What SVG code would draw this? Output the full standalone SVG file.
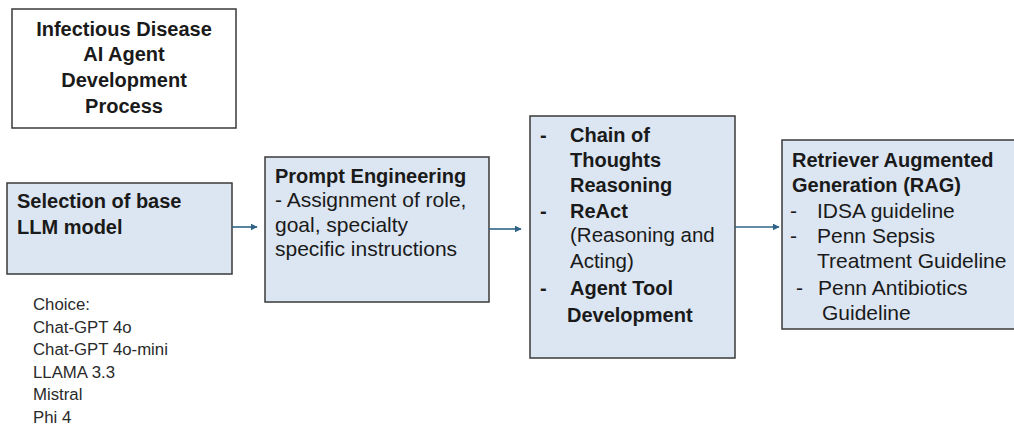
<svg xmlns="http://www.w3.org/2000/svg" width="1014" height="427" viewBox="0 0 1014 427">
<defs>
<marker id="ah" viewBox="0 0 10 10" refX="9" refY="5" markerWidth="7" markerHeight="7" markerUnits="userSpaceOnUse" orient="auto"><path d="M0,0 L10,5 L0,10 z" fill="#2f6488"/></marker>
<style>
.box{fill:#dce6f2;stroke:#3a3a3a;stroke-width:1.5}
.title{fill:#fff;stroke:#3a3a3a;stroke-width:1.5}
text{font-family:"Liberation Sans",Arial,sans-serif;fill:#1a1a1a;font-size:20px}
.b{font-weight:bold}
.r{font-size:21px}
.r3{font-size:20.5px}
.ch{font-size:16.8px;fill:#2a2a2a}
.c{stroke:#2f6488;stroke-width:1.6;fill:none;marker-end:url(#ah)}
</style>
</defs>
<rect width="1014" height="427" fill="#fff"/>
<g id="title">
<rect class="title" x="12" y="9" width="224" height="119"/>
<text class="b" text-anchor="middle" x="124" y="36">Infectious Disease</text>
<text class="b" text-anchor="middle" x="124" y="61">AI Agent</text>
<text class="b" text-anchor="middle" x="124" y="87">Development</text>
<text class="b" text-anchor="middle" x="124" y="113">Process</text>
</g>
<g id="node-llm">
<rect class="box" x="7" y="183" width="225" height="91"/>
<text class="b" x="17" y="208">Selection of base</text>
<text class="b" x="17" y="234">LLM model</text>
</g>
<g id="choices">
<text class="ch" x="33" y="310">Choice:</text>
<text class="ch" x="33" y="332.5">Chat-GPT 4o</text>
<text class="ch" x="33" y="355">Chat-GPT 4o-mini</text>
<text class="ch" x="33" y="377.5">LLAMA 3.3</text>
<text class="ch" x="33" y="400">Mistral</text>
<text class="ch" x="33" y="422.5">Phi 4</text>
</g>
<g id="node-prompt">
<rect class="box" x="265" y="157" width="224" height="145"/>
<text class="b" x="275" y="183">Prompt Engineering</text>
<text class="r" x="275" y="207">- Assignment of role,</text>
<text class="r" x="275" y="231.5">goal, specialty</text>
<text class="r" x="275" y="256">specific instructions</text>
</g>
<g id="node-reasoning">
<rect class="box" x="530" y="116" width="205" height="242"/>
<text class="b" x="540" y="142">-</text>
<text class="b" x="570" y="142">Chain of</text>
<text class="b" x="570" y="167">Thoughts</text>
<text class="b" x="570" y="192">Reasoning</text>
<text class="b" x="540" y="218">-</text>
<text class="b" x="570" y="218">ReAct</text>
<text class="r3" x="570" y="242">(Reasoning and</text>
<text class="r3" x="570" y="268">Acting)</text>
<text class="b" x="540" y="295">-</text>
<text class="b" x="570" y="295">Agent Tool</text>
<text class="b" x="567" y="322">Development</text>
</g>
<g id="node-rag">
<rect class="box" x="782" y="140" width="240" height="189"/>
<text class="b" x="792" y="167">Retriever Augmented</text>
<text class="b" x="792" y="192">Generation (RAG)</text>
<text class="r" x="790" y="218">-</text>
<text class="r" x="817" y="218">IDSA guideline</text>
<text class="r" x="790" y="243">-</text>
<text class="r" x="817" y="243">Penn Sepsis</text>
<text class="r" x="817" y="268">Treatment Guideline</text>
<text class="r" x="796" y="295">-</text>
<text class="r" x="818" y="295">Penn Antibiotics</text>
<text class="r" x="822" y="320">Guideline</text>
</g>
<g id="connectors">
<line class="c" x1="232" y1="227" x2="257" y2="227"/>
<line class="c" x1="489" y1="229" x2="521" y2="229"/>
<line class="c" x1="735" y1="227" x2="779" y2="227"/>
</g>
</svg>
